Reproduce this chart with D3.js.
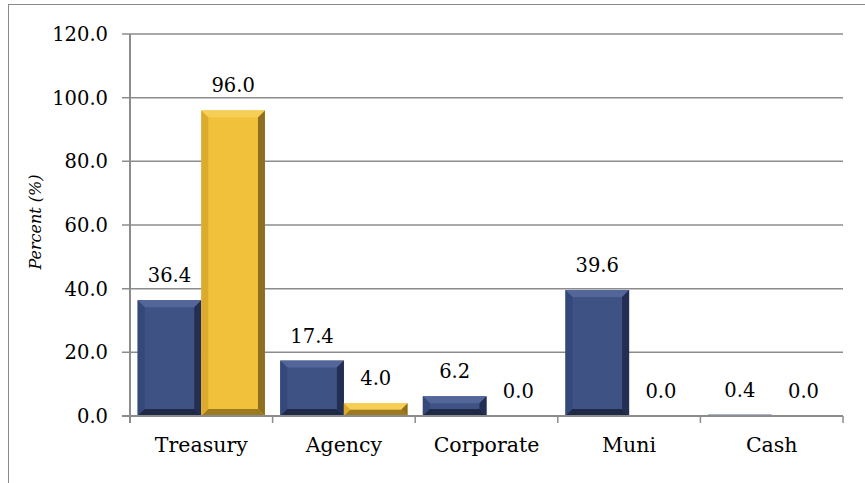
<!DOCTYPE html>
<html>
<head>
<meta charset="utf-8">
<script src="https://cdn.jsdelivr.net/npm/d3@7/dist/d3.min.js"></script>
<style>
  html, body { margin: 0; padding: 0; background: #fff; }
  svg { display: block; }
  text { font-family: "DejaVu Serif", "Liberation Serif", serif; fill: #000; }
</style>
</head>
<body>
<svg id="chart" width="865" height="483"></svg>
<script>
const categories = ["Treasury", "Agency", "Corporate", "Muni", "Cash"];
const seriesNames = ["Series A", "Series B"];
const seriesA = [36.4, 17.4, 6.2, 39.6, 0.4];
const seriesB = [96.0, 4.0, 0.0, 0.0, 0.0];
const yTicks = [0, 20, 40, 60, 80, 100, 120];
const yTitle = "Percent (%)";

const W = 865, H = 483;
const m = { left: 130, right: 22, top: 34, bottom: 67 };
const svg = d3.select("#chart");

// chart border
svg.append("rect").attr("x", 8.5).attr("y", 4.5).attr("width", W + 10).attr("height", H + 10)
  .attr("fill", "none").attr("stroke", "#8a8a8a").attr("stroke-width", 1);

const x0 = d3.scaleBand().domain(categories).range([m.left, W - m.right]).paddingInner(0).paddingOuter(0);
const x1 = d3.scaleBand().domain(seriesNames).range([0, x0.bandwidth()]).paddingOuter(0.12).paddingInner(0);
const y = d3.scaleLinear().domain([0, 120]).range([H - m.bottom, m.top]);

const g = svg.append("g");

// gridlines
g.selectAll("line.grid").data(yTicks.filter(t => t > 0)).enter().append("line")
  .attr("x1", m.left - 8).attr("x2", W - m.right)
  .attr("y1", d => y(d)).attr("y2", d => y(d))
  .attr("stroke", "#8c8c8c").attr("stroke-width", 1.5);

// y tick labels
g.selectAll("text.ytick").data(yTicks).enter().append("text")
  .attr("x", m.left - 22).attr("y", d => y(d)).attr("dy", "0.36em")
  .attr("text-anchor", "end").attr("font-size", 19.5)
  .text(d => d.toFixed(1));

// bars with bevel
const palettes = {
  "Series A": { face: "#3e5384", top: "#52669a", left: "#34487a", right: "#222e52", bottom: "#1e2946" },
  "Series B": { face: "#f2c13b", top: "#f6cd55", left: "#dcab2e", right: "#8d6f1f", bottom: "#9c7a1f" }
};
const rows = [];
categories.forEach((c, i) => {
  rows.push({ cat: c, s: "Series A", v: seriesA[i] });
  rows.push({ cat: c, s: "Series B", v: seriesB[i] });
});

rows.forEach(r => {
  const xl = x0(r.cat) + x1(r.s);
  const xr = xl + x1.bandwidth();
  const yt = y(r.v), yb = y(0);
  const h = yb - yt;
  if (h > 0) {
    const p = palettes[r.s];
    const b = Math.min(7, h / 2, (xr - xl) / 2);
    const bar = g.append("g");
    bar.append("rect").attr("x", xl).attr("y", yt).attr("width", xr - xl).attr("height", h).attr("fill", p.face);
    const poly = (pts, fill) => bar.append("polygon").attr("points", pts.map(q => q.join(",")).join(" ")).attr("fill", fill);
    poly([[xl, yt], [xr, yt], [xr - b, yt + b], [xl + b, yt + b]], p.top);
    poly([[xl, yt], [xl + b, yt + b], [xl + b, yb - b], [xl, yb]], p.left);
    poly([[xr, yt], [xr, yb], [xr - b, yb - b], [xr - b, yt + b]], p.right);
    poly([[xl, yb], [xl + b, yb - b], [xr - b, yb - b], [xr, yb]], p.bottom);
  }
  // data label
  g.append("text").attr("x", (xl + xr) / 2).attr("y", yt - 18)
    .attr("text-anchor", "middle").attr("font-size", 19.5).text(r.v.toFixed(1));
});

// axes lines
g.append("line").attr("x1", m.left).attr("x2", m.left).attr("y1", y(120)).attr("y2", y(0) + 7)
  .attr("stroke", "#8c8c8c").attr("stroke-width", 2);
g.append("line").attr("x1", m.left - 8).attr("x2", W - m.right).attr("y1", y(0)).attr("y2", y(0))
  .attr("stroke", "#8c8c8c").attr("stroke-width", 2);
// x ticks at category boundaries
const bounds = categories.map(c => x0(c)).concat([x0(categories[categories.length - 1]) + x0.bandwidth()]);
g.selectAll("line.xtick").data(bounds).enter().append("line")
  .attr("x1", d => d).attr("x2", d => d).attr("y1", y(0)).attr("y2", y(0) + 7)
  .attr("stroke", "#8c8c8c").attr("stroke-width", 1.5);

// category labels
g.selectAll("text.cat").data(categories).enter().append("text")
  .attr("x", d => x0(d) + x0.bandwidth() / 2).attr("y", y(0) + 36)
  .attr("text-anchor", "middle").attr("font-size", 20.5).text(d => d);

// y title
svg.append("text").attr("transform", `translate(35,${(y(0) + y(120)) / 2 - 3}) rotate(-90)`)
  .attr("text-anchor", "middle").attr("dy", "0.35em")
  .attr("font-size", 16).attr("font-style", "italic").text(yTitle);
</script>
</body>
</html>
